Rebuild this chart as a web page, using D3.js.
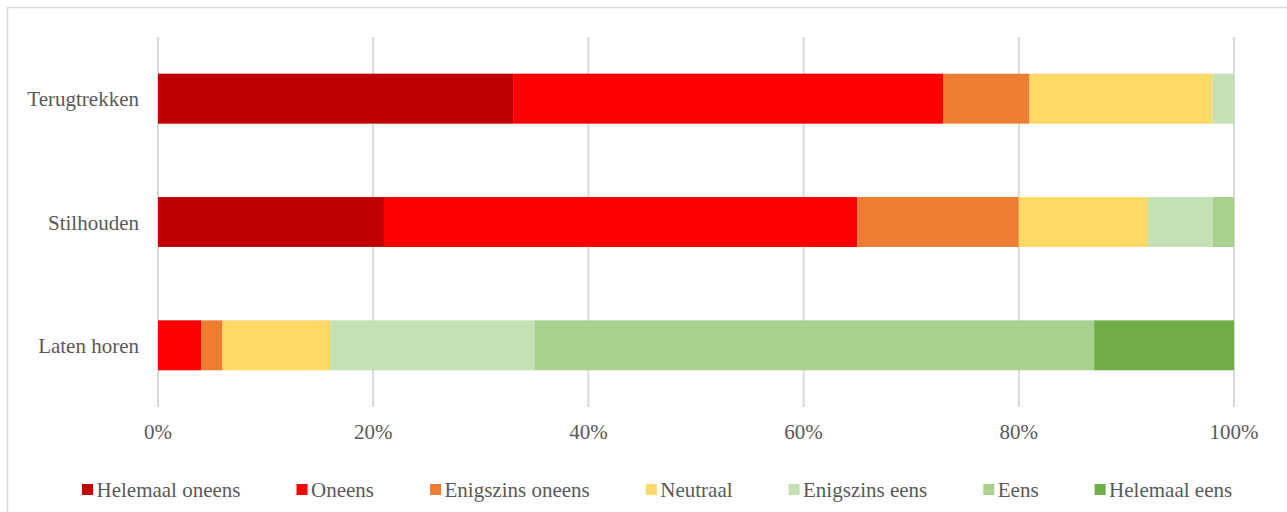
<!DOCTYPE html>
<html><head><meta charset="utf-8">
<script src="https://cdn.jsdelivr.net/npm/d3@7"></script>
<style>
html,body{margin:0;padding:0;background:#fff;}
</style></head>
<body>
<svg id="c" width="1287" height="512"></svg>
<script>
const categories = ["Terugtrekken", "Stilhouden", "Laten horen"];
const seriesNames = ["Helemaal oneens", "Oneens", "Enigszins oneens", "Neutraal", "Enigszins eens", "Eens", "Helemaal eens"];
const seriesColors = ["#C00000", "#FF0000", "#ED7D31", "#FFD966", "#C5E0B4", "#A9D18E", "#70AD47"];
const helemaalOneens = [33, 21, 0];
const oneens = [40, 44, 4];
const enigszinsOneens = [8, 15, 2];
const neutraal = [17, 12, 10];
const enigszinsEens = [2, 6, 19];
const eens = [0, 2, 52];
const helemaalEens = [0, 0, 13];
const tickValues = [0, 20, 40, 60, 80, 100];
const tickLabels = ["0%", "20%", "40%", "60%", "80%", "100%"];

const FONT = "'Liberation Serif', 'Tinos', 'DejaVu Serif', serif";
const FS = 21;
const seriesValues = [helemaalOneens, oneens, enigszinsOneens, neutraal, enigszinsEens, eens, helemaalEens];
const rows = categories.map((c, i) => {
  const r = {cat: c};
  seriesNames.forEach((s, j) => r[s] = seriesValues[j][i]);
  return r;
});
const stacked = d3.stack().keys(seriesNames)(rows);

const svg = d3.select("#c").attr("font-family", FONT);
svg.append("rect").attr("x", 7.5).attr("y", 7.5).attr("width", 1290).attr("height", 510)
  .attr("fill", "#fff").attr("stroke", "#d9d9d9").attr("stroke-width", 1.5);

const x = d3.scaleLinear().domain([0, 100]).range([158, 1234]);
const y = d3.scaleBand().domain(categories).range([37, 407]).paddingInner(0.595).paddingOuter(0.2975);

svg.append("g").selectAll("line").data(tickValues).join("line")
  .attr("x1", d => x(d)).attr("x2", d => x(d)).attr("y1", 37).attr("y2", 407)
  .attr("stroke", "#d9d9d9").attr("stroke-width", 2);

svg.append("g").selectAll("g").data(stacked).join("g")
  .attr("fill", (d, i) => seriesColors[i])
  .selectAll("rect").data(d => d).join("rect")
  .attr("x", d => x(d[0])).attr("width", d => x(d[1]) - x(d[0]))
  .attr("y", d => y(d.data.cat)).attr("height", y.bandwidth());

svg.append("g").selectAll("text").data(tickValues).join("text")
  .attr("x", d => x(d)).attr("y", 439).attr("text-anchor", "middle")
  .attr("font-family", FONT).attr("fill", "#595959")
  .attr("font-size", FS).text((d, i) => tickLabels[i]);

svg.append("g").selectAll("text").data(categories).join("text")
  .attr("x", 139).attr("y", d => y(d) + y.bandwidth() / 2 + 7.5)
  .attr("font-family", FONT).attr("fill", "#595959")
  .attr("text-anchor", "end").attr("font-size", FS).text(d => d);

const lg = svg.append("g");
let cx = 82;
seriesNames.forEach((s, i) => {
  lg.append("rect").attr("x", cx).attr("y", 484).attr("width", 11).attr("height", 11).attr("fill", seriesColors[i]);
  const t = lg.append("text").attr("x", cx + 14.5).attr("y", 497).attr("font-size", FS)
    .attr("font-family", FONT).attr("fill", "#595959").text(s);
  cx += 14.5 + t.node().getComputedTextLength() + 56;
});
</script>
</body></html>
